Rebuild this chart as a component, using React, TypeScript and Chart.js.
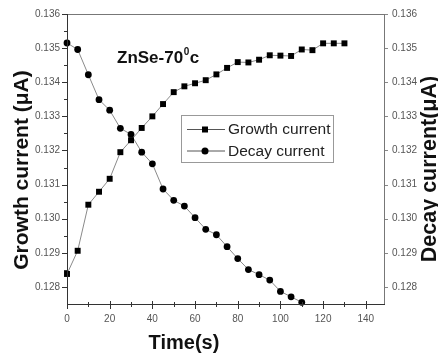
import React, { useEffect, useRef } from 'react';
import { Chart, registerables } from 'chart.js';

Chart.register(...registerables);

const timeGrowth = [0, 5, 10, 15, 20, 25, 30, 35, 40, 45, 50, 55, 60, 65, 70, 75, 80, 85, 90, 95, 100, 105, 110, 115, 120, 125, 130];
const growthCurrent = [0.12838, 0.12906, 0.13041, 0.13079, 0.13117, 0.13195, 0.1323, 0.13266, 0.133, 0.13336, 0.13371, 0.13388, 0.13397, 0.13406, 0.13423, 0.13442, 0.13459, 0.13458, 0.13466, 0.13479, 0.13478, 0.13477, 0.13496, 0.13494, 0.13514, 0.13514, 0.13514];
const timeDecay = [0, 5, 10, 15, 20, 25, 30, 35, 40, 45, 50, 55, 60, 65, 70, 75, 80, 85, 90, 95, 100, 105, 110];
const decayCurrent = [0.13515, 0.13496, 0.13422, 0.13349, 0.13318, 0.13265, 0.13247, 0.13195, 0.13161, 0.13087, 0.13054, 0.13037, 0.13003, 0.12969, 0.12953, 0.12918, 0.12883, 0.12851, 0.12836, 0.1282, 0.12787, 0.12771, 0.12755];

const xMajorTicks = [0, 20, 40, 60, 80, 100, 120, 140];
const xMinorTicks = [10, 30, 50, 70, 90, 110, 130];
const yMajorTicks = [0.128, 0.129, 0.13, 0.131, 0.132, 0.133, 0.134, 0.135, 0.136];
const yMinorTicks = [0.1285, 0.1295, 0.1305, 0.1315, 0.1325, 0.1335, 0.1345, 0.1355];
const xRange = [0, 149];
const yRange = [0.1275, 0.136];

const seriesNames = ['Growth current', 'Decay current'];
const xTitle = 'Time(s)';
const yLeftTitle = 'Growth current (\u03bcA)';
const yRightTitle = 'Decay current(\u03bcA)';

const FONT = '"Liberation Sans", Arial, sans-serif';

const decorPlugin = {
  id: 'decor',
  afterDraw(chart: any) {
    const ctx = chart.ctx;
    const { left, right, top, bottom } = chart.chartArea;
    const xs = chart.scales.x;
    const ys = chart.scales.y;
    ctx.save();
    // frame
    ctx.lineWidth = 1;
    ctx.strokeStyle = '#777';
    ctx.beginPath();
    ctx.moveTo(left, top + 0.5);
    ctx.lineTo(right, top + 0.5);
    ctx.moveTo(right - 0.5, top);
    ctx.lineTo(right - 0.5, bottom);
    ctx.stroke();
    ctx.strokeStyle = '#333';
    ctx.beginPath();
    ctx.moveTo(left + 0.5, top);
    ctx.lineTo(left + 0.5, bottom + 1);
    ctx.moveTo(left, bottom + 0.5);
    ctx.lineTo(right, bottom + 0.5);
    ctx.stroke();
    // ticks
    ctx.beginPath();
    xMajorTicks.forEach((v) => {
      const px = Math.round(xs.getPixelForValue(v)) + 0.5;
      ctx.moveTo(px, bottom - 3);
      ctx.lineTo(px, bottom + 5);
    });
    xMinorTicks.forEach((v) => {
      const px = Math.round(xs.getPixelForValue(v)) + 0.5;
      ctx.moveTo(px, bottom - 2);
      ctx.lineTo(px, bottom + 3);
    });
    yMajorTicks.forEach((v) => {
      const py = Math.round(ys.getPixelForValue(v)) + 0.5;
      ctx.moveTo(left - 5, py);
      ctx.lineTo(left, py);
    });
    yMinorTicks.forEach((v) => {
      const py = Math.round(ys.getPixelForValue(v)) + 0.5;
      ctx.moveTo(left - 3, py);
      ctx.lineTo(left, py);
    });
    ctx.stroke();
    ctx.strokeStyle = '#888';
    ctx.beginPath();
    yMajorTicks.forEach((v) => {
      const py = Math.round(ys.getPixelForValue(v)) + 0.5;
      ctx.moveTo(right, py);
      ctx.lineTo(right + 3, py);
    });
    ctx.stroke();

    // axis titles
    ctx.fillStyle = '#111';
    ctx.font = `bold 21px ${FONT}`;
    ctx.textAlign = 'center';
    ctx.textBaseline = 'alphabetic';
    ctx.save();
    ctx.translate(28, 170);
    ctx.rotate(-Math.PI / 2);
    ctx.fillText(yLeftTitle, 0, 0);
    ctx.restore();
    ctx.save();
    ctx.translate(436, 169);
    ctx.rotate(-Math.PI / 2);
    ctx.font = `bold 21.5px ${FONT}`;
    ctx.fillText(yRightTitle, 0, 0);
    ctx.restore();
    ctx.font = `bold 20px ${FONT}`;
    ctx.fillText(xTitle, 184, 349);

    // inset label ZnSe-70^0c
    ctx.textAlign = 'left';
    ctx.font = `bold 17px ${FONT}`;
    const base = 'ZnSe-70';
    let tx = 117;
    const ty = 63;
    ctx.fillText(base, tx, ty);
    tx += ctx.measureText(base).width + 0.5;
    ctx.font = `bold 10px ${FONT}`;
    ctx.fillText('0', tx, ty - 8);
    tx += ctx.measureText('0').width + 0.5;
    ctx.font = `bold 17px ${FONT}`;
    ctx.fillText('c', tx, ty);

    // legend
    ctx.strokeStyle = '#999';
    ctx.lineWidth = 1;
    ctx.strokeRect(181.5, 115.5, 152, 47);
    const rows = [129.5, 151];
    rows.forEach((ry, i) => {
      ctx.strokeStyle = '#555';
      ctx.beginPath();
      ctx.moveTo(187, ry);
      ctx.lineTo(225, ry);
      ctx.stroke();
      ctx.fillStyle = '#000';
      if (i === 0) {
        ctx.fillRect(202, ry - 3, 6, 6);
      } else {
        ctx.beginPath();
        ctx.arc(205, ry, 3.5, 0, Math.PI * 2);
        ctx.fill();
      }
      ctx.fillStyle = '#222';
      ctx.font = `15.5px ${FONT}`;
      ctx.textBaseline = 'middle';
      ctx.fillText(seriesNames[i], 228, ry + 0.5);
    });
    ctx.restore();
  },
};

export default function App() {
  const canvasRef = useRef<HTMLCanvasElement>(null);
  useEffect(() => {
    const canvas = canvasRef.current;
    if (!canvas) return;
    const tickFont = { family: FONT, size: 10 };
    const chart = new Chart(canvas, {
      type: 'line',
      data: {
        datasets: [
          {
            label: seriesNames[0],
            data: timeGrowth.map((t, i) => ({ x: t, y: growthCurrent[i] })),
            yAxisID: 'y',
            borderColor: '#8a8a8a',
            borderWidth: 1,
            pointStyle: 'rect',
            pointRadius: 4.2,
            pointBackgroundColor: '#000',
            pointBorderColor: '#000',
            pointBorderWidth: 0,
            clip: false as any,
          },
          {
            label: seriesNames[1],
            data: timeDecay.map((t, i) => ({ x: t, y: decayCurrent[i] })),
            yAxisID: 'y1',
            borderColor: '#8a8a8a',
            borderWidth: 1,
            pointStyle: 'circle',
            pointRadius: 3.4,
            pointBackgroundColor: '#000',
            pointBorderColor: '#000',
            pointBorderWidth: 0,
            clip: false as any,
          },
        ],
      },
      options: {
        responsive: false,
        animation: false,
        devicePixelRatio: 1,
        layout: { padding: { top: 14, left: 0, right: 0, bottom: 0 } },
        plugins: { legend: { display: false }, tooltip: { enabled: false } },
        scales: {
          x: {
            type: 'linear',
            position: 'bottom',
            min: xRange[0],
            max: xRange[1],
            afterBuildTicks: (s: any) => { s.ticks = xMajorTicks.map((value) => ({ value })); },
            afterFit: (s: any) => { s.height = 55; },
            grid: { display: false, drawTicks: false },
            border: { display: false },
            ticks: { font: tickFont, color: '#555', padding: 9, maxRotation: 0, autoSkip: false, callback: (v: any) => String(v) },
          },
          y: {
            type: 'linear',
            position: 'left',
            min: yRange[0],
            max: yRange[1],
            afterBuildTicks: (s: any) => { s.ticks = yMajorTicks.map((value) => ({ value })); },
            afterFit: (s: any) => { s.width = 67; },
            grid: { display: false, drawTicks: false },
            border: { display: false },
            ticks: { font: tickFont, color: '#555', padding: 7, autoSkip: false, callback: (v: any) => Number(v).toFixed(3) },
          },
          y1: {
            type: 'linear',
            position: 'right',
            min: yRange[0],
            max: yRange[1],
            afterBuildTicks: (s: any) => { s.ticks = yMajorTicks.map((value) => ({ value })); },
            afterFit: (s: any) => { s.width = 53; },
            grid: { display: false, drawTicks: false },
            border: { display: false },
            ticks: { font: tickFont, color: '#555', padding: 7, autoSkip: false, callback: (v: any) => Number(v).toFixed(3) },
          },
        },
      },
      plugins: [decorPlugin],
    });
    return () => chart.destroy();
  }, []);
  return (
    <div style={{ position: 'absolute', left: 0, top: 0, width: 438, height: 359, background: '#fff' }}>
      <canvas ref={canvasRef} width={438} height={359} />
    </div>
  );
}
